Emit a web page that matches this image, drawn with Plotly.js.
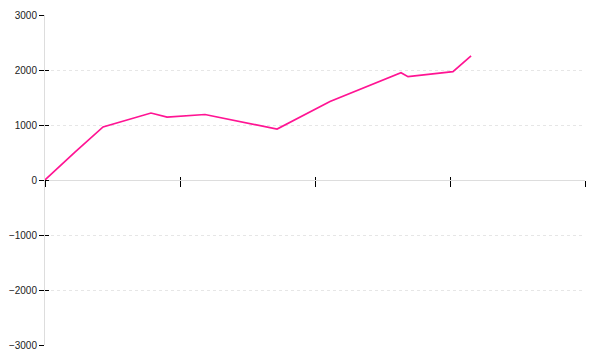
<!DOCTYPE html>
<html>
<head>
<meta charset="utf-8">
<script src="https://cdn.plot.ly/plotly-3.0.1.min.js"></script>
<style>html,body{margin:0;padding:0;background:#fff;}#chart{width:600px;height:360px;}</style>
</head>
<body>
<div id="chart"></div>
<script>
// Data
const xValues = [0, 0.222, 0.43, 0.785, 0.904, 1.0, 1.185, 1.719, 2.111, 2.637, 2.689, 3.022, 3.156];
const yValues = [0, 509, 964, 1218, 1145, 1164, 1191, 927, 1427, 1951, 1878, 1969, 2255];
const xTicks = [0, 1, 2, 3, 4];
const yTicks = [-3000, -2000, -1000, 0, 1000, 2000, 3000];

const font = {family: 'Liberation Sans, Arial, sans-serif', size: 10, color: '#222'};

const traces = [
  {x: xValues, y: yValues, type: 'scatter', mode: 'lines',
   line: {color: '#ff1493', width: 1.7}, hoverinfo: 'none', showlegend: false},
  {x: [], y: [], xaxis: 'x2', yaxis: 'y2', type: 'scatter', mode: 'lines', showlegend: false}
];

const layout = {
  width: 600, height: 360,
  margin: {l: 45, r: 15, t: 15, b: 15, pad: 0},
  paper_bgcolor: '#fff', plot_bgcolor: '#fff',
  font: font,
  showlegend: false,
  xaxis: {
    range: [0, 4], tickvals: xTicks, showticklabels: false,
    anchor: 'free', position: 0.5,
    ticks: 'outside', ticklen: 6, tickwidth: 1, tickcolor: '#000',
    showgrid: false, zeroline: false,
    showline: true, linecolor: '#dddddd', linewidth: 1
  },
  xaxis2: {
    range: [0, 4], tickvals: xTicks, showticklabels: false,
    overlaying: 'x', anchor: 'free', position: 0.5,
    ticks: 'inside', ticklen: 3, tickwidth: 1, tickcolor: '#000',
    showgrid: false, zeroline: false, showline: false
  },
  yaxis: {
    range: [-3000, 3000], tickvals: yTicks,
    ticks: 'outside', ticklen: 5, tickwidth: 1, tickcolor: '#000',
    tickfont: font,
    showgrid: true, gridcolor: '#e6e6e6', griddash: 'dot', gridwidth: 1,
    zeroline: false,
    showline: true, linecolor: '#dddddd', linewidth: 1
  },
  yaxis2: {
    range: [-3000, 3000], tickvals: yTicks, showticklabels: false,
    overlaying: 'y', side: 'left', anchor: 'x',
    ticks: 'inside', ticklen: 4, tickwidth: 1, tickcolor: '#000',
    showgrid: false, zeroline: false, showline: false
  }
};

Plotly.newPlot('chart', traces, layout, {staticPlot: true, displayModeBar: false});
</script>
</body>
</html>
